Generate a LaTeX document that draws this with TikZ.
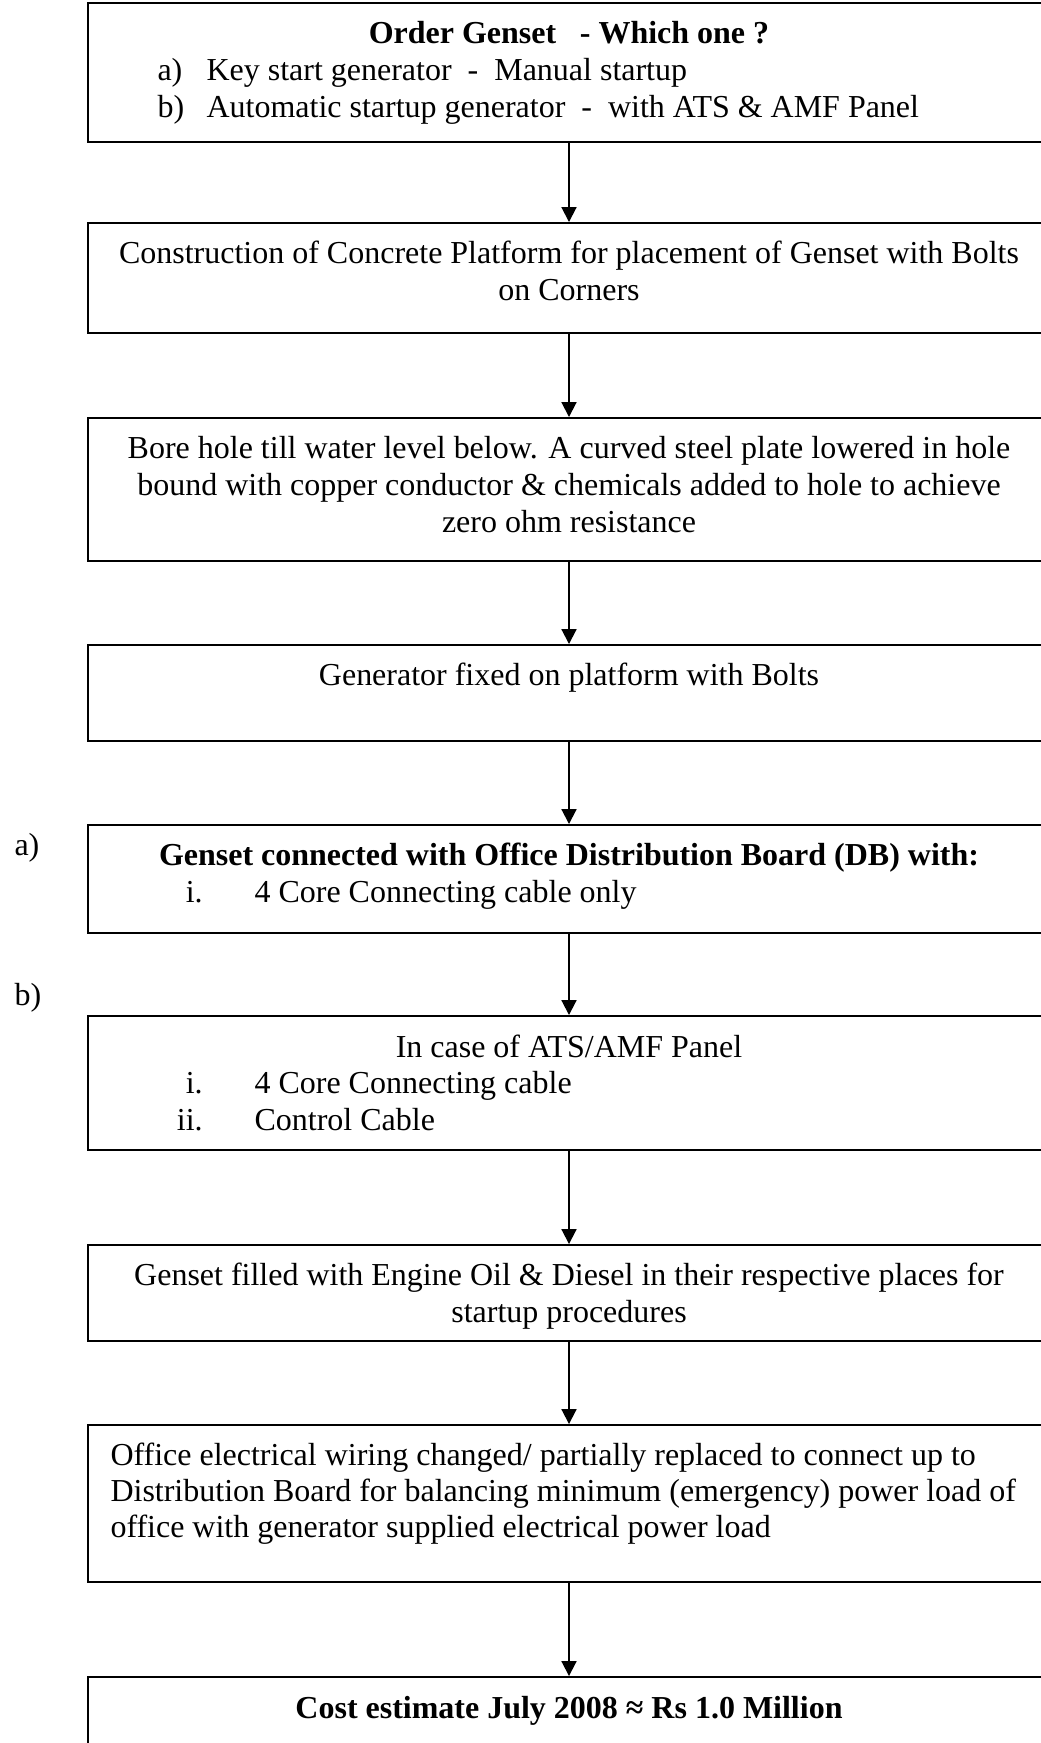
\documentclass[tikz,border=0pt]{standalone}
\usepackage{fontspec}
\setmainfont{Liberation Serif}
\usetikzlibrary{arrows.meta}

\newlength\pxu
\setlength\pxu{0.383pt}

\tikzset{
  stepbox/.style={draw, line width=0.75pt, minimum width=962*\pxu, minimum height=#1*\pxu, inner sep=0pt},
  txt/.style={inner sep=0pt, anchor=base, font=\fontsize{12.25}{14.1}\selectfont},
  ltxt/.style={txt, anchor=base west},
  flow/.style={-{Triangle[length=5.7pt,width=5.7pt]}, line width=0.75pt},
}

\begin{document}
\begin{tikzpicture}[x=0.383pt, y=-0.383pt]
  \useasboundingbox (0,0) rectangle (1041,1743);
  \clip (0,0) rectangle (1041,1743);

  % boxes, top to bottom
  \node[stepbox=139] (order)    at (569,72.5)   {};
  \node[stepbox=110] (platform) at (569,278)    {};
  \node[stepbox=143] (earthing) at (569,489.5)  {};
  \node[stepbox=96]  (fixing)   at (569,693)    {};
  \node[stepbox=108] (dbcable)  at (569,879)    {};
  \node[stepbox=134] (atscable) at (569,1083)   {};
  \node[stepbox=96]  (fuel)     at (569,1293)   {};
  \node[stepbox=157] (wiring)   at (569,1503.5) {};
  \node[stepbox=120] (cost)     at (569,1737)   {};

  % texts, one node per line
  \node[txt] (ordertitle) at (569,43) {\textbf{Order Genset\hspace{6pt} - Which one ?}};
  \foreach \line [count=\i from 0] in {
    {\makebox[18.8pt][l]{a)}Key start generator~~-~~Manual startup},
    {\makebox[18.8pt][l]{b)}Automatic startup generator~~-~~with ATS \& AMF Panel}}
    \node[ltxt] (orderopt-\i) at (157,80+37.5*\i) {\line};

  \foreach \line [count=\i from 0] in {
    {Construction of Concrete Platform for placement of Genset with Bolts},
    {on Corners}}
    \node[txt] (platformtxt-\i) at (569,263+37*\i) {\line};

  \foreach \line [count=\i from 0] in {
    {Bore hole till water level below. A curved steel plate lowered in hole},
    {bound with copper conductor \& chemicals added to hole to achieve},
    {zero ohm resistance}}
    \node[txt] (earthingtxt-\i) at (569,458+37*\i) {\line};

  \node[txt] (fixingtxt) at (569,685) {Generator fixed on platform with Bolts};

  \node[txt] (dbtitle) at (569,865)
    {\textbf{Genset connected with Office Distribution Board (DB) with:}};
  \node[ltxt] (dblist) at (170,902)
    {\makebox[12.3pt][r]{i.}\hspace{19.9pt}4 Core Connecting cable only};

  \node[txt] (atstitle) at (569,1057) {In case of ATS/AMF Panel};
  \foreach \line [count=\i from 0] in {
    {\makebox[12.3pt][r]{i.}\hspace{19.9pt}4 Core Connecting cable},
    {\makebox[12.3pt][r]{ii.}\hspace{19.9pt}Control Cable}}
    \node[ltxt] (atslist-\i) at (170,1093+37*\i) {\line};

  \foreach \line [count=\i from 0] in {
    {Genset filled with Engine Oil \& Diesel in their respective places for},
    {startup procedures}}
    \node[txt] (fueltxt-\i) at (569,1285+37*\i) {\line};

  \foreach \line [count=\i from 0] in {
    {Office electrical wiring changed/ partially replaced to connect up to},
    {Distribution Board for balancing minimum (emergency) power load of},
    {office with generator supplied electrical power load}}
    \node[ltxt] (wiringtxt-\i) at (110,1465+36*\i) {\line};

  \node[txt] (costtxt) at (569,1718)
    {\textbf{Cost estimate July 2008 ≈ Rs 1.0 Million}};

  % option labels
  \node[ltxt] (opta) at (14,855) {a)};
  \node[ltxt] (optb) at (14,1005) {b)};

  % arrows
  \draw[flow] (order) -- (platform);
  \draw[flow] (platform) -- (earthing);
  \draw[flow] (earthing) -- (fixing);
  \draw[flow] (fixing) -- (dbcable);
  \draw[flow] (dbcable) -- (atscable);
  \draw[flow] (atscable) -- (fuel);
  \draw[flow] (fuel) -- (wiring);
  \draw[flow] (wiring) -- (cost);
\end{tikzpicture}
\end{document}
